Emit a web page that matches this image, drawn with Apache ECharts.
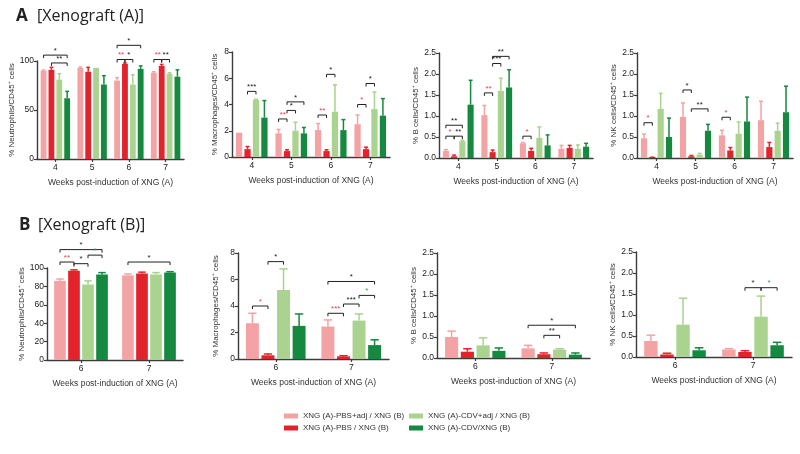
<!DOCTYPE html>
<html><head><meta charset="utf-8">
<script src="https://cdn.jsdelivr.net/npm/echarts@6/dist/echarts.min.js"></script>
<style>html,body{margin:0;padding:0;background:#fff}#c{width:800px;height:454px}</style>
</head><body><div id="c"></div><script>
// ---------- DATA ----------
const groups = ['XNG (A)-PBS+adj / XNG (B)', 'XNG (A)-PBS / XNG (B)', 'XNG (A)-CDV+adj / XNG (B)', 'XNG (A)-CDV/XNG (B)'];
const weeksA = ['4', '5', '6', '7'];
const weeksB = ['6', '7'];
const xTitle = 'Weeks post-induction of XNG (A)';

// each inner array: one group (PBS+adj, PBS, CDV+adj, CDV) over the weeks
const neutroA_mean = [[90, 93, 80, 88], [91, 89, 97, 95], [81, 93, 76, 87], [62, 76, 92, 84]];
const neutroA_err  = [[0.8, 0.8, 3, 1], [2.5, 4.5, 1, 1.5], [6, 0, 10, 1], [7, 9, 3, 7]];
const macroA_mean  = [[1.85, 1.8, 2.05, 2.5], [0.6, 0.45, 0.45, 0.6], [4.35, 2.0, 3.45, 3.65], [3.0, 1.8, 2.05, 3.15]];
const macroA_err   = [[0, 0.3, 0.5, 0.7], [0.2, 0.1, 0.1, 0.15], [0.05, 0.65, 2.05, 1.3], [1.3, 0.45, 0.8, 1.3]];
const bcellA_mean  = [[0.17, 1.02, 0.35, 0.22], [0.04, 0.14, 0.17, 0.24], [0.4, 1.6, 0.48, 0.22], [1.27, 1.68, 0.3, 0.27]];
const bcellA_err   = [[0.03, 0.23, 0.02, 0.08], [0.03, 0.05, 0.06, 0.06], [0.02, 0.3, 0.26, 0.09], [0.58, 0.42, 0.25, 0.08]];
const nkA_mean     = [[0.47, 0.98, 0.54, 0.9], [0.01, 0.04, 0.18, 0.26], [1.17, 0.08, 0.58, 0.65], [0.5, 0.65, 0.87, 1.09]];
const nkA_err      = [[0.1, 0.33, 0.12, 0.45], [0.01, 0.02, 0.07, 0.11], [0.37, 0.03, 0.28, 0.18], [0.45, 0.15, 0.58, 0.62]];

const neutroB_mean = [[86, 92], [97, 94], [82, 93], [93, 95]];
const neutroB_err  = [[2, 1.5], [1, 1.5], [4, 2], [2, 1]];
const macroB_mean  = [[2.7, 2.45], [0.28, 0.2], [5.2, 2.9], [2.5, 1.05]];
const macroB_err   = [[0.75, 0.5], [0.1, 0.05], [1.6, 0.5], [0.9, 0.4]];
const bcellB_mean  = [[0.5, 0.23], [0.15, 0.09], [0.3, 0.2], [0.17, 0.08]];
const bcellB_err   = [[0.14, 0.07], [0.07, 0.03], [0.18, 0.02], [0.07, 0.04]];
const nkB_mean     = [[0.38, 0.18], [0.06, 0.12], [0.77, 0.96], [0.16, 0.28]];
const nkB_err      = [[0.14, 0.02], [0.03, 0.03], [0.63, 0.49], [0.06, 0.07]];

// significance brackets: [week index, group from, group to, level, label, colour key]
const neutroA_sig = [[0,0,3,106,'*','k'],[0,1,3,98,'**','k'],[2,0,3,116,'*','k'],[2,0,1,101.5,'**','r'],[2,1,2,101.5,'*','k'],[3,0,1,101.5,'**','r'],[3,1,2,101.5,'**','k']];
const macroA_sig  = [[0,1,2,5.0,'***','k'],[1,0,1,2.9,'**','r'],[1,1,2,3.55,'*','k'],[1,1,3,4.2,'*','k'],[2,0,1,3.2,'**','r'],[2,1,2,6.3,'*','k'],[3,0,1,4.0,'*','r'],[3,1,2,5.6,'*','k']];
const bcellA_sig  = [[0,0,1,0.52,'*','r'],[0,1,2,0.52,'**','k'],[0,0,2,0.78,'**','k'],[1,0,1,1.55,'**','r'],[1,1,2,2.25,'***','k'],[1,1,3,2.42,'**','k'],[2,0,1,0.52,'*','r']];
const nkA_sig     = [[0,0,1,0.84,'*','r'],[1,0,1,1.62,'*','k'],[1,1,3,1.17,'**','k'],[2,0,1,0.97,'*','r']];
const neutroB_sig = [[0,0,3,120,'*','k'],[0,2,3,114,'*','g'],[0,0,1,106.5,'**','r'],[0,1,2,104.7,'*','k'],[1,0,3,106.5,'*','k']];
const macroB_sig  = [[0,0,1,4.0,'*','r'],[0,1,2,7.35,'*','k'],[1,0,3,5.85,'*','k'],[1,2,3,4.8,'*','g'],[1,1,2,4.15,'***','k'],[1,0,1,3.45,'***','r']];
const bcellB_sig  = [[1,0,3,0.78,'*','k'],[1,1,2,0.54,'**','k']];
const nkB_sig     = [[1,1,2,1.65,'*','k'],[1,2,3,1.65,'*','g']];

// ---------- STYLE / LAYOUT ----------
const colors = ['#F4A3A4', '#E3232B', '#A9D38E', '#15893F'];
const sigColors = { k: '#222', r: '#E8424C', g: '#2E9E55' };
const FONT = 'Liberation Sans';

const panels = [
  { cats: weeksA, mean: neutroA_mean, err: neutroA_err, sig: neutroA_sig, yname: '% Neutrophils/CD45⁺ cells', max: 100, step: 50, dec: 0, left: 37, top: 61, w: 147, h: 98, gap: 0.35, cgap: 0.2, ng: 19 },
  { cats: weeksA, mean: macroA_mean, err: macroA_err, sig: macroA_sig, yname: '% Macrophages/CD45⁺ cells', max: 8, step: 2, dec: 0, left: 232, top: 52, w: 158, h: 105, gap: 0.35, cgap: 0.2, ng: 13 },
  { cats: weeksA, mean: bcellA_mean, err: bcellA_err, sig: bcellA_sig, yname: '% B cells/CD45⁺ cells', max: 2.5, step: 0.5, dec: 1, left: 439, top: 53, w: 154, h: 105, gap: 0.35, cgap: 0.2, ng: 18 },
  { cats: weeksA, mean: nkA_mean, err: nkA_err, sig: nkA_sig, yname: '% NK cells/CD45⁺ cells', max: 2.5, step: 0.5, dec: 1, left: 637, top: 53, w: 156, h: 105, gap: 0.35, cgap: 0.2, ng: 18 },
  { cats: weeksB, mean: neutroB_mean, err: neutroB_err, sig: neutroB_sig, yname: '% Neutrophils/CD45⁺ cells', max: 100, step: 20, dec: 0, left: 47, top: 268, w: 136, h: 92, gap: 0.2, cgap: 0.21, ng: 19 },
  { cats: weeksB, mean: macroB_mean, err: macroB_err, sig: macroB_sig, yname: '% Macrophages/CD45⁺ cells', max: 8, step: 2, dec: 0, left: 238, top: 253, w: 151, h: 106, gap: 0.2, cgap: 0.21, ng: 18 },
  { cats: weeksB, mean: bcellB_mean, err: bcellB_err, sig: bcellB_sig, yname: '% B cells/CD45⁺ cells', max: 2.5, step: 0.5, dec: 1, left: 437, top: 253, w: 153, h: 105, gap: 0.2, cgap: 0.21, ng: 18 },
  { cats: weeksB, mean: nkB_mean, err: nkB_err, sig: nkB_sig, yname: '% NK cells/CD45⁺ cells', max: 2.5, step: 0.5, dec: 1, left: 636, top: 252, w: 156, h: 105, gap: 0.2, cgap: 0.21, ng: 18 }
];

function barCenter(api, p, c, g) {
  const cw = api.size([1, 0])[0];
  const used = cw * (1 - p.cgap);
  const w = used / (4 + 3 * p.gap);
  return { x: api.coord([c, 0])[0] - used / 2 + g * w * (1 + p.gap) + w / 2, w: w };
}

const grid = [], xAxis = [], yAxis = [], series = [];
const axisLine = { show: true, lineStyle: { color: '#3c3c3c', width: 1.4 } };
panels.forEach((p, i) => {
  grid.push({ left: p.left, top: p.top, width: p.w, height: p.h });
  xAxis.push({
    gridIndex: i, type: 'category', data: p.cats,
    axisLine: axisLine, axisTick: { show: true, alignWithLabel: true, length: 3, lineStyle: { color: '#3c3c3c', width: 1.2 } },
    axisLabel: { fontSize: 8.5, color: '#222', fontFamily: FONT, margin: 4 },
    name: xTitle, nameLocation: 'middle', nameGap: 19,
    nameTextStyle: { fontSize: 8.5, color: '#333', fontFamily: FONT }
  });
  yAxis.push({
    gridIndex: i, type: 'value', min: 0, max: p.max, interval: p.step,
    splitLine: { show: false },
    axisLine: axisLine, axisTick: { show: true, length: 3, lineStyle: { color: '#3c3c3c', width: 1.2 } },
    axisLabel: { fontSize: 8.5, color: '#222', fontFamily: FONT, margin: 3, formatter: v => v.toFixed(p.dec) },
    name: p.yname, nameLocation: 'middle', nameGap: p.ng, nameRotate: 90,
    nameTextStyle: { fontSize: 8, color: '#333', fontFamily: FONT }
  });
  for (let g = 0; g < 4; g++) {
    series.push({
      type: 'bar', name: groups[g], xAxisIndex: i, yAxisIndex: i, data: p.mean[g],
      itemStyle: { color: colors[g] }, barGap: (p.gap * 100) + '%', barCategoryGap: (p.cgap * 100) + '%',
      barMinHeight: 1, silent: true, z: 2
    });
  }
  const errData = [];
  for (let g = 0; g < 4; g++) for (let c = 0; c < p.cats.length; c++) errData.push([c, g, p.mean[g][c], p.err[g][c]]);
  series.push({
    type: 'custom', xAxisIndex: i, yAxisIndex: i, data: errData, encode: { x: 0, y: 2 }, clip: false, silent: true, z: 1,
    renderItem: (params, api) => {
      const c = api.value(0), g = api.value(1), m = api.value(2), e = api.value(3);
      if (!e) return null;
      const b = barCenter(api, p, c, g);
      const y0 = api.coord([c, m])[1], y1 = api.coord([c, m + e])[1];
      const cap = b.w * 0.32;
      return { type: 'group', children: [
        { type: 'line', shape: { x1: b.x, y1: y0, x2: b.x, y2: y1 }, style: { stroke: colors[g], lineWidth: 1.5 } },
        { type: 'line', shape: { x1: b.x - cap, y1: y1, x2: b.x + cap, y2: y1 }, style: { stroke: colors[g], lineWidth: 1.5 } }
      ] };
    }
  });
  series.push({
    type: 'custom', xAxisIndex: i, yAxisIndex: i, data: p.sig.map(s => [s[0], s[3]]), encode: { x: 0, y: 1 }, clip: false, silent: true, z: 5,
    renderItem: (params, api) => {
      const s = p.sig[params.dataIndex];
      const c = s[0];
      const xa = barCenter(api, p, c, s[1]).x, xb = barCenter(api, p, c, s[2]).x;
      const y = api.coord([c, s[3]])[1];
      const col = sigColors[s[5]];
      return { type: 'group', children: [
        { type: 'polyline', shape: { points: [[xa, y + 3], [xa, y], [xb, y], [xb, y + 3]] }, style: { stroke: '#222', lineWidth: 1, fill: null } },
        { type: 'text', x: (xa + xb) / 2, y: y - 0.5, style: { text: s[4], fill: col, font: '8px ' + FONT, align: 'center', verticalAlign: 'bottom' } }
      ] };
    }
  });
});

const option = {
  backgroundColor: '#fff',
  animation: false,
  title: [
    { text: 'A', left: 11, top: 3, textStyle: { fontSize: 17, fontWeight: 'bold', color: '#222', fontFamily: 'Open Sans' } },
    { text: '[Xenograft (A)]', left: 32, top: 3, textStyle: { fontSize: 16, fontWeight: 'normal', color: '#222', fontFamily: 'Open Sans' } },
    { text: 'B', left: 14, top: 212, textStyle: { fontSize: 17, fontWeight: 'bold', color: '#222', fontFamily: 'Open Sans' } },
    { text: '[Xenograft (B)]', left: 33, top: 212, textStyle: { fontSize: 16, fontWeight: 'normal', color: '#222', fontFamily: 'Open Sans' } }
  ],
  legend: [
    { data: [groups[0], groups[1]], orient: 'vertical', left: 279, top: 407, icon: 'rect', itemWidth: 14, itemHeight: 5, itemGap: 4, selectedMode: false, textStyle: { fontSize: 8, color: '#333', fontFamily: FONT } },
    { data: [groups[2], groups[3]], orient: 'vertical', left: 404, top: 407, icon: 'rect', itemWidth: 14, itemHeight: 5, itemGap: 4, selectedMode: false, textStyle: { fontSize: 8, color: '#333', fontFamily: FONT } }
  ],
  grid: grid, xAxis: xAxis, yAxis: yAxis, series: series
};
const chart = echarts.init(document.getElementById('c'), null, { renderer: 'canvas' });
chart.setOption(option);
</script></body></html>
